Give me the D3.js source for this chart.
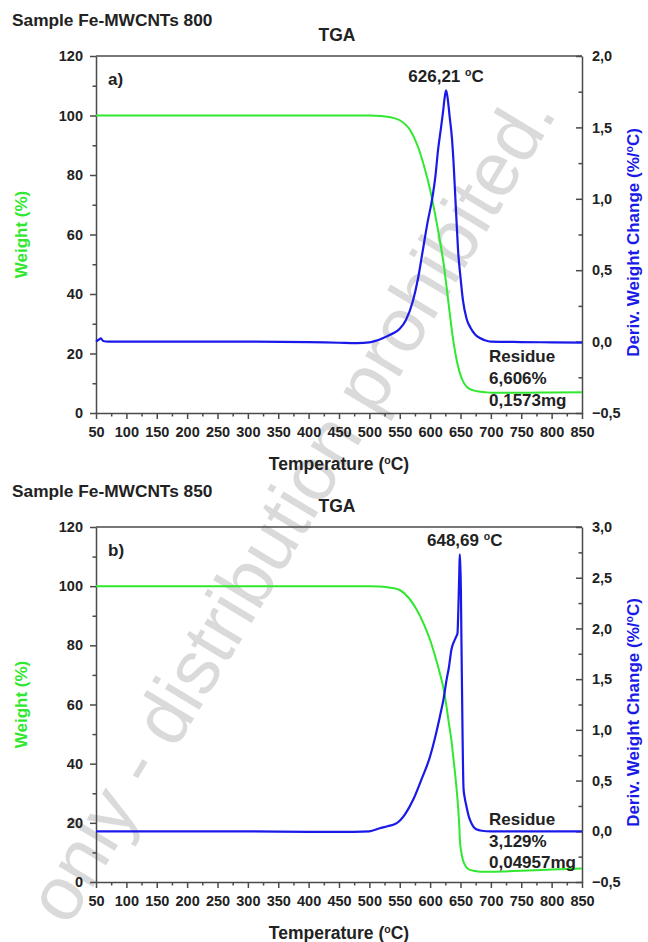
<!DOCTYPE html>
<html>
<head>
<meta charset="utf-8">
<script src="https://cdnjs.cloudflare.com/ajax/libs/d3/7.8.5/d3.min.js"></script>
<style>
  body { margin: 0; background: #fff; }
  svg text { font-family: "Liberation Sans", Arial, sans-serif; font-weight: bold; fill: #222; }
  .axis path, .axis line { stroke: #4a4a4a; stroke-width: 1.5; }
  .axis text { font-size: 14.5px; fill: #222; }
</style>
</head>
<body>
<script>
'use strict';

var width = 648,
    height = 942;

// ---- data ----
var xTicks = [50, 100, 150, 200, 250, 300, 350, 400, 450, 500, 550, 600, 650, 700, 750, 800, 850];
var weightTicks = [0, 20, 40, 60, 80, 100, 120];

// panel a) Fe-MWCNTs 800
var tempWA = [50, 100, 200, 300, 400, 450, 500, 520, 535, 550, 567, 580, 590, 600, 608, 616, 622, 627, 632, 638, 644, 649, 655, 662, 670, 680, 690, 703, 750, 800, 850];
var weightA = [100, 100, 100, 100, 100, 100, 100, 99.8, 99.4, 98.4, 95.1, 89.5, 83, 75, 67, 58, 50.5, 42.5, 34, 24.5, 17.5, 13.4, 10.3, 8.5, 7.7, 7.2, 7, 6.8, 6.8, 6.9, 7];
var tempDA = [50, 55, 58, 62, 70, 100, 200, 300, 400, 450, 480, 500, 510, 520, 530, 540, 550, 560, 572, 580, 588, 596, 603, 609, 613, 618, 621, 624, 626.2, 629, 632, 636, 639, 641, 644, 646, 650, 654, 660, 666, 674, 682, 690, 700, 750, 800, 850];
var derivA = [0, 0.015, 0.022, 0.004, 0, 0, 0, 0, -0.004, -0.008, -0.01, -0.005, 0.005, 0.02, 0.04, 0.06, 0.09, 0.15, 0.29, 0.44, 0.64, 0.84, 0.99, 1.17, 1.34, 1.5, 1.6, 1.71, 1.76, 1.7, 1.58, 1.42, 1.22, 1.05, 0.8, 0.64, 0.45, 0.29, 0.16, 0.1, 0.05, 0.025, 0.01, 0, -0.003, -0.005, -0.007];
var derivTicksA = [-0.5, 0, 0.5, 1, 1.5, 2];

// panel b) Fe-MWCNTs 850
var tempWB = [50, 100, 200, 300, 400, 450, 500, 517, 535, 550, 565, 578, 590, 600, 608, 616, 622, 627, 631, 635, 638, 641, 644, 646, 648, 649, 651, 654, 658, 662, 666, 674, 682, 700, 750, 800, 850];
var weightB = [100, 100, 100, 100, 100, 100, 100, 99.9, 99.5, 98.7, 96, 92, 87, 81.8, 76.5, 70.6, 65.5, 59.3, 53.5, 48, 42.5, 36.8, 30.5, 25.4, 19, 14.2, 10.5, 7.4, 5.5, 4.5, 4.1, 3.7, 3.5, 3.5, 3.8, 4.2, 4.6];
var tempDB = [50, 100, 200, 300, 400, 450, 500, 517, 530, 545, 560, 572, 585, 600, 608, 616, 622, 627, 631, 635, 640, 643, 645, 646.5, 648, 648.7, 649.5, 650.6, 651.5, 652.5, 653.5, 655, 657, 660, 664, 668, 672, 676, 685, 700, 750, 800, 850];
var derivB = [0, 0, 0, 0, -0.005, -0.005, 0, 0.03, 0.05, 0.08, 0.18, 0.31, 0.5, 0.74, 0.92, 1.13, 1.3, 1.49, 1.62, 1.79, 1.88, 1.92, 1.95, 2.2, 2.55, 2.73, 2.65, 2.4, 1.9, 1.4, 0.9, 0.42, 0.33, 0.24, 0.14, 0.08, 0.04, 0.02, 0.005, 0, 0, 0, 0];
var derivTicksB = [-0.5, 0, 0.5, 1, 1.5, 2, 2.5, 3];

var green = "#2fe82f",
    blue = "#1a1ae8";

var comma = d3.formatLocale({decimal: ",", thousands: ".", grouping: [3], currency: ["", ""]});
var fmt1 = comma.format(".1f");

var svg = d3.select("body").append("svg")
  .attr("width", width)
  .attr("height", height);

// watermark, under everything
svg.append("text")
  .attr("transform", "translate(296,510) rotate(-59)")
  .attr("text-anchor", "middle")
  .attr("dominant-baseline", "middle")
  .style("font-weight", "normal")
  .style("font-size", "76px")
  .style("fill", "#dadada")
  .text("only - distribution prohibited.");

var x0 = 96, x1 = 582;

function drawPanel(p) {
  var x = d3.scaleLinear().domain([50, 850]).range([x0, x1]);
  var y = d3.scaleLinear().domain([0, 120]).range([p.bottom, p.top]);
  var y2 = d3.scaleLinear().domain([-0.5, p.dmax]).range([p.bottom, p.top]);

  var g = svg.append("g");

  // headings
  g.append("text").attr("x", 12).attr("y", p.top - 30)
    .style("font-size", "17.3px").text(p.sample);
  g.append("text").attr("x", 337).attr("y", p.top - 15)
    .attr("text-anchor", "middle").style("font-size", "17.5px").text("TGA");
  g.append("text").attr("x", 108).attr("y", p.top + 29)
    .style("font-size", "17px").text(p.letter);

  // top frame
  g.append("line")
    .attr("x1", x0).attr("x2", x1).attr("y1", p.top).attr("y2", p.top)
    .style("stroke", "#4a4a4a").style("stroke-width", 1.5);

  // x axis
  g.append("g").attr("class", "axis").attr("transform", "translate(0," + p.bottom + ")")
    .call(d3.axisBottom(x).tickValues(d3.range(75, 850, 50)).tickSize(3.5).tickSizeOuter(0).tickFormat(""))
    .select(".domain").remove();
  g.append("g").attr("class", "axis").attr("transform", "translate(0," + p.bottom + ")")
    .call(d3.axisBottom(x).tickValues(xTicks).tickSize(6).tickSizeOuter(0).tickPadding(8));

  // left axis
  g.append("g").attr("class", "axis").attr("transform", "translate(" + x0 + ",0)")
    .call(d3.axisLeft(y).tickValues(d3.range(10, 120, 20)).tickSize(3.5).tickSizeOuter(0).tickFormat(""))
    .select(".domain").remove();
  g.append("g").attr("class", "axis").attr("transform", "translate(" + x0 + ",0)")
    .call(d3.axisLeft(y).tickValues(weightTicks).tickSize(6).tickSizeOuter(0).tickPadding(7));

  // right axis, ticks pointing in
  var minorD = p.dTicks.slice(0, -1).map(function(d) { return d + 0.25; });
  g.append("g").attr("class", "axis").attr("transform", "translate(" + x1 + ",0)")
    .call(d3.axisRight(y2).tickValues(minorD).tickSizeInner(-3.5).tickSizeOuter(0).tickFormat(""))
    .select(".domain").remove();
  g.append("g").attr("class", "axis").attr("transform", "translate(" + x1 + ",0)")
    .call(d3.axisRight(y2).tickValues(p.dTicks).tickSizeInner(-6).tickSizeOuter(0).tickPadding(10).tickFormat(fmt1));

  // curves
  var lineW = d3.line()
    .x(function(d, i) { return x(p.tw[i]); })
    .y(function(d) { return y(d); })
    .curve(d3.curveMonotoneX);
  var lineD = d3.line()
    .x(function(d, i) { return x(p.td[i]); })
    .y(function(d) { return y2(d); })
    .curve(d3.curveMonotoneX);

  g.append("path").datum(p.w).attr("d", lineW)
    .style("fill", "none").style("stroke", green).style("stroke-width", 2);
  g.append("path").datum(p.d).attr("d", lineD)
    .style("fill", "none").style("stroke", blue).style("stroke-width", 2.2);

  // peak label
  var peakI = p.d.indexOf(d3.max(p.d));
  var pk = g.append("text").attr("x", x(p.td[peakI]) + p.peakDx).attr("y", y2(p.d[peakI]) - 8)
    .attr("text-anchor", "middle").style("font-size", "17px");
  pk.append("tspan").text(p.peakText + " ");
  pk.append("tspan").attr("dy", -6).style("font-size", "10.5px").text("o");
  pk.append("tspan").attr("dy", 6).text("C");

  // residue note
  var res = g.append("text").style("font-size", "17px");
  p.residue.forEach(function(s, i) {
    res.append("tspan").attr("x", 489).attr("y", p.resY + i * p.resStep).text(s);
  });

  // axis titles
  var xt = g.append("text").attr("x", 339).attr("y", p.bottom + 57)
    .attr("text-anchor", "middle").style("font-size", "17.5px");
  xt.append("tspan").text("Temperature (");
  xt.append("tspan").attr("dy", -6).style("font-size", "10.5px").text("o");
  xt.append("tspan").attr("dy", 6).text("C)");

  g.append("text")
    .attr("transform", "translate(27," + ((p.top + p.bottom) / 2) + ") rotate(-90)")
    .attr("text-anchor", "middle").style("font-size", "17px").style("fill", green)
    .text("Weight (%)");

  var dt = g.append("text")
    .attr("transform", "translate(639," + ((p.top + p.bottom) / 2 + 8) + ") rotate(-90)")
    .attr("text-anchor", "middle").style("font-size", "17px").style("fill", blue);
  dt.append("tspan").text("Deriv. Weight Change (%/");
  dt.append("tspan").attr("dy", -6).style("font-size", "10.5px").style("fill", blue).text("o");
  dt.append("tspan").attr("dy", 6).style("fill", blue).text("C)");
}

drawPanel({
  sample: "Sample Fe-MWCNTs 800", letter: "a)",
  top: 56, bottom: 413, dmax: 2,
  tw: tempWA, w: weightA, td: tempDA, d: derivA, dTicks: derivTicksA,
  peakText: "626,21", peakDx: 0,
  residue: ["Residue", "6,606%", "0,1573mg"], resY: 362, resStep: 22
});

drawPanel({
  sample: "Sample Fe-MWCNTs 850", letter: "b)",
  top: 527, bottom: 882, dmax: 3,
  tw: tempWB, w: weightB, td: tempDB, d: derivB, dTicks: derivTicksB,
  peakText: "648,69", peakDx: 5,
  residue: ["Residue", "3,129%", "0,04957mg"], resY: 825, resStep: 21.5
});
</script>
</body>
</html>
